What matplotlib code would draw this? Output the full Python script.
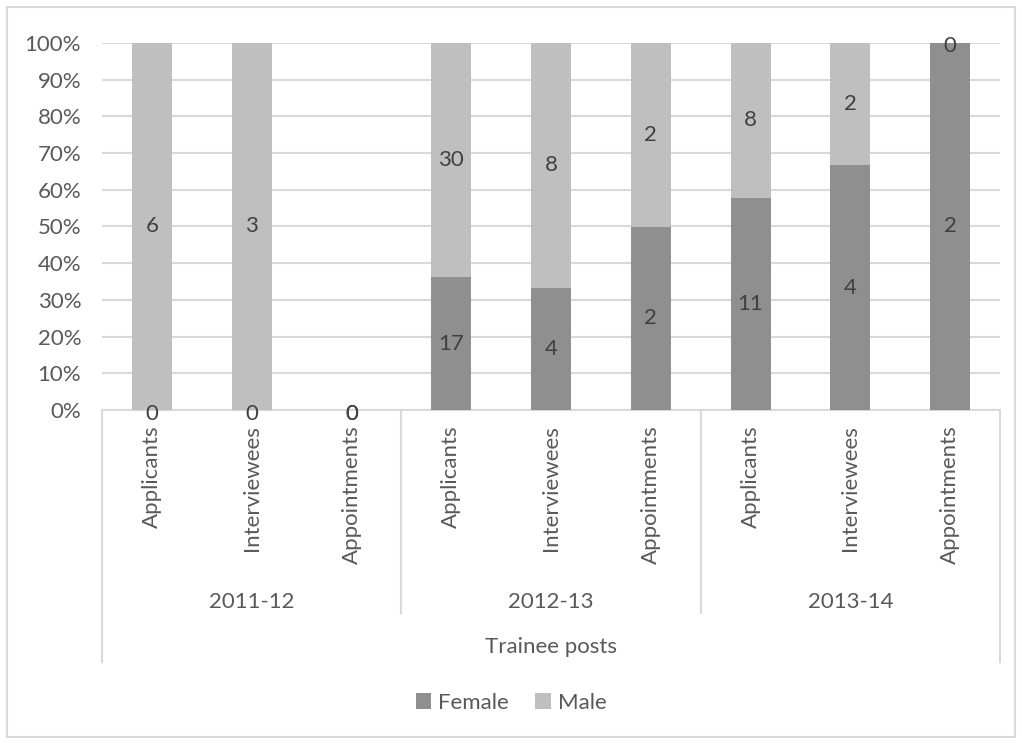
import matplotlib
matplotlib.use("Agg")
import matplotlib.pyplot as plt
import matplotlib.transforms as mtransforms
from matplotlib.patches import Rectangle
import numpy as np

plt.rcParams['font.family'] = ['Lato', 'DejaVu Sans']

groups = ["2011-12", "2012-13", "2013-14"]
stages = ["Applicants", "Interviewees", "Appointments"]
female = [0, 0, 0, 17, 4, 2, 11, 4, 2]
male = [6, 3, 0, 30, 8, 2, 8, 2, 0]
axis_title = "Trainee posts"
series_names = ["Female", "Male"]

c_female = "#8f8f8f"
c_male = "#bfbfbf"
grid_c = "#d9d9d9"
txt_c = "#595959"
lbl_c = "#404040"

W, H = 1022, 744
fig = plt.figure(figsize=(W / 100, H / 100), dpi=100)
ax = fig.add_axes([102 / W, 1 - 410 / H, (1000 - 102) / W, (410 - 43) / H])

n = len(female)
x = np.arange(n)
tot = np.array(female, float) + np.array(male, float)
with np.errstate(invalid="ignore", divide="ignore"):
    fp = np.where(tot > 0, np.array(female) / tot, 0.0)
    mp = np.where(tot > 0, np.array(male) / tot, 0.0)

bw = 0.4
ax.bar(x, fp, bw, color=c_female, label=series_names[0], zorder=3)
ax.bar(x, mp, bw, bottom=fp, color=c_male, label=series_names[1], zorder=3)

fs = 16
for i in range(n):
    yf = fp[i] / 2 if fp[i] > 0 else -0.012
    ax.text(x[i], yf, str(female[i]), ha="center", va="center",
            fontsize=fs, color=lbl_c, zorder=4, clip_on=False)
    ym = fp[i] + mp[i] / 2 if mp[i] > 0 else (fp[i] - 0.008 if fp[i] > 0 else -0.012)
    ax.text(x[i], ym, str(male[i]), ha="center", va="center",
            fontsize=fs, color=lbl_c, zorder=4, clip_on=False)

ax.set_xlim(-0.5, n - 0.5)
ax.set_ylim(0, 1)
ax.set_yticks(np.linspace(0, 1, 11))
ax.set_yticklabels([f"{int(round(v * 100))}%" for v in np.linspace(0, 1, 11)])
ax.tick_params(axis="y", length=0, labelsize=fs, colors=txt_c, pad=15)
ax.yaxis.grid(True, color=grid_c, linewidth=1.5, zorder=0)
ax.set_axisbelow(True)
for s in ["top", "right", "left"]:
    ax.spines[s].set_visible(False)
ax.spines["bottom"].set_color(grid_c)
ax.spines["bottom"].set_linewidth(1.5)

ax.set_xticks(x)
ax.set_xticklabels([stages[i % 3] for i in range(n)], rotation=90,
                   fontsize=fs, color=txt_c, va="top", ha="center")
ax.tick_params(axis="x", length=0, pad=11)

trans = mtransforms.blended_transform_factory(ax.transData, ax.transAxes)
ah = (410 - 43)
def yfrac(py):
    return (410 - py) / ah

for xv in [-0.5, n - 0.5]:
    ax.plot([xv, xv], [0, yfrac(662)], color=grid_c, lw=1.5, transform=trans,
            clip_on=False)
for xv in [2.5, 5.5]:
    ax.plot([xv, xv], [0, yfrac(613)], color=grid_c, lw=1.5, transform=trans,
            clip_on=False)

for gi, g in enumerate(groups):
    ax.text(gi * 3 + 1, yfrac(602), g, ha="center", va="center",
            fontsize=fs, color=txt_c, transform=trans)
ax.text((n - 1) / 2, yfrac(647), axis_title, ha="center", va="center",
        fontsize=fs, color=txt_c, transform=trans)

leg = fig.legend(loc="center", bbox_to_anchor=(0.5, 1 - 703 / H), ncol=2,
                 frameon=False, fontsize=fs, handlelength=0.7, handleheight=0.7,
                 handletextpad=0.3, columnspacing=1.2)
for t in leg.get_texts():
    t.set_color(txt_c)

fig.patches.append(Rectangle((7 / W, 7 / H), (1015 - 7) / W, (737 - 7) / H,
                             transform=fig.transFigure, fill=False,
                             edgecolor=grid_c, lw=1.5))

fig.savefig("out.png", dpi=100)
